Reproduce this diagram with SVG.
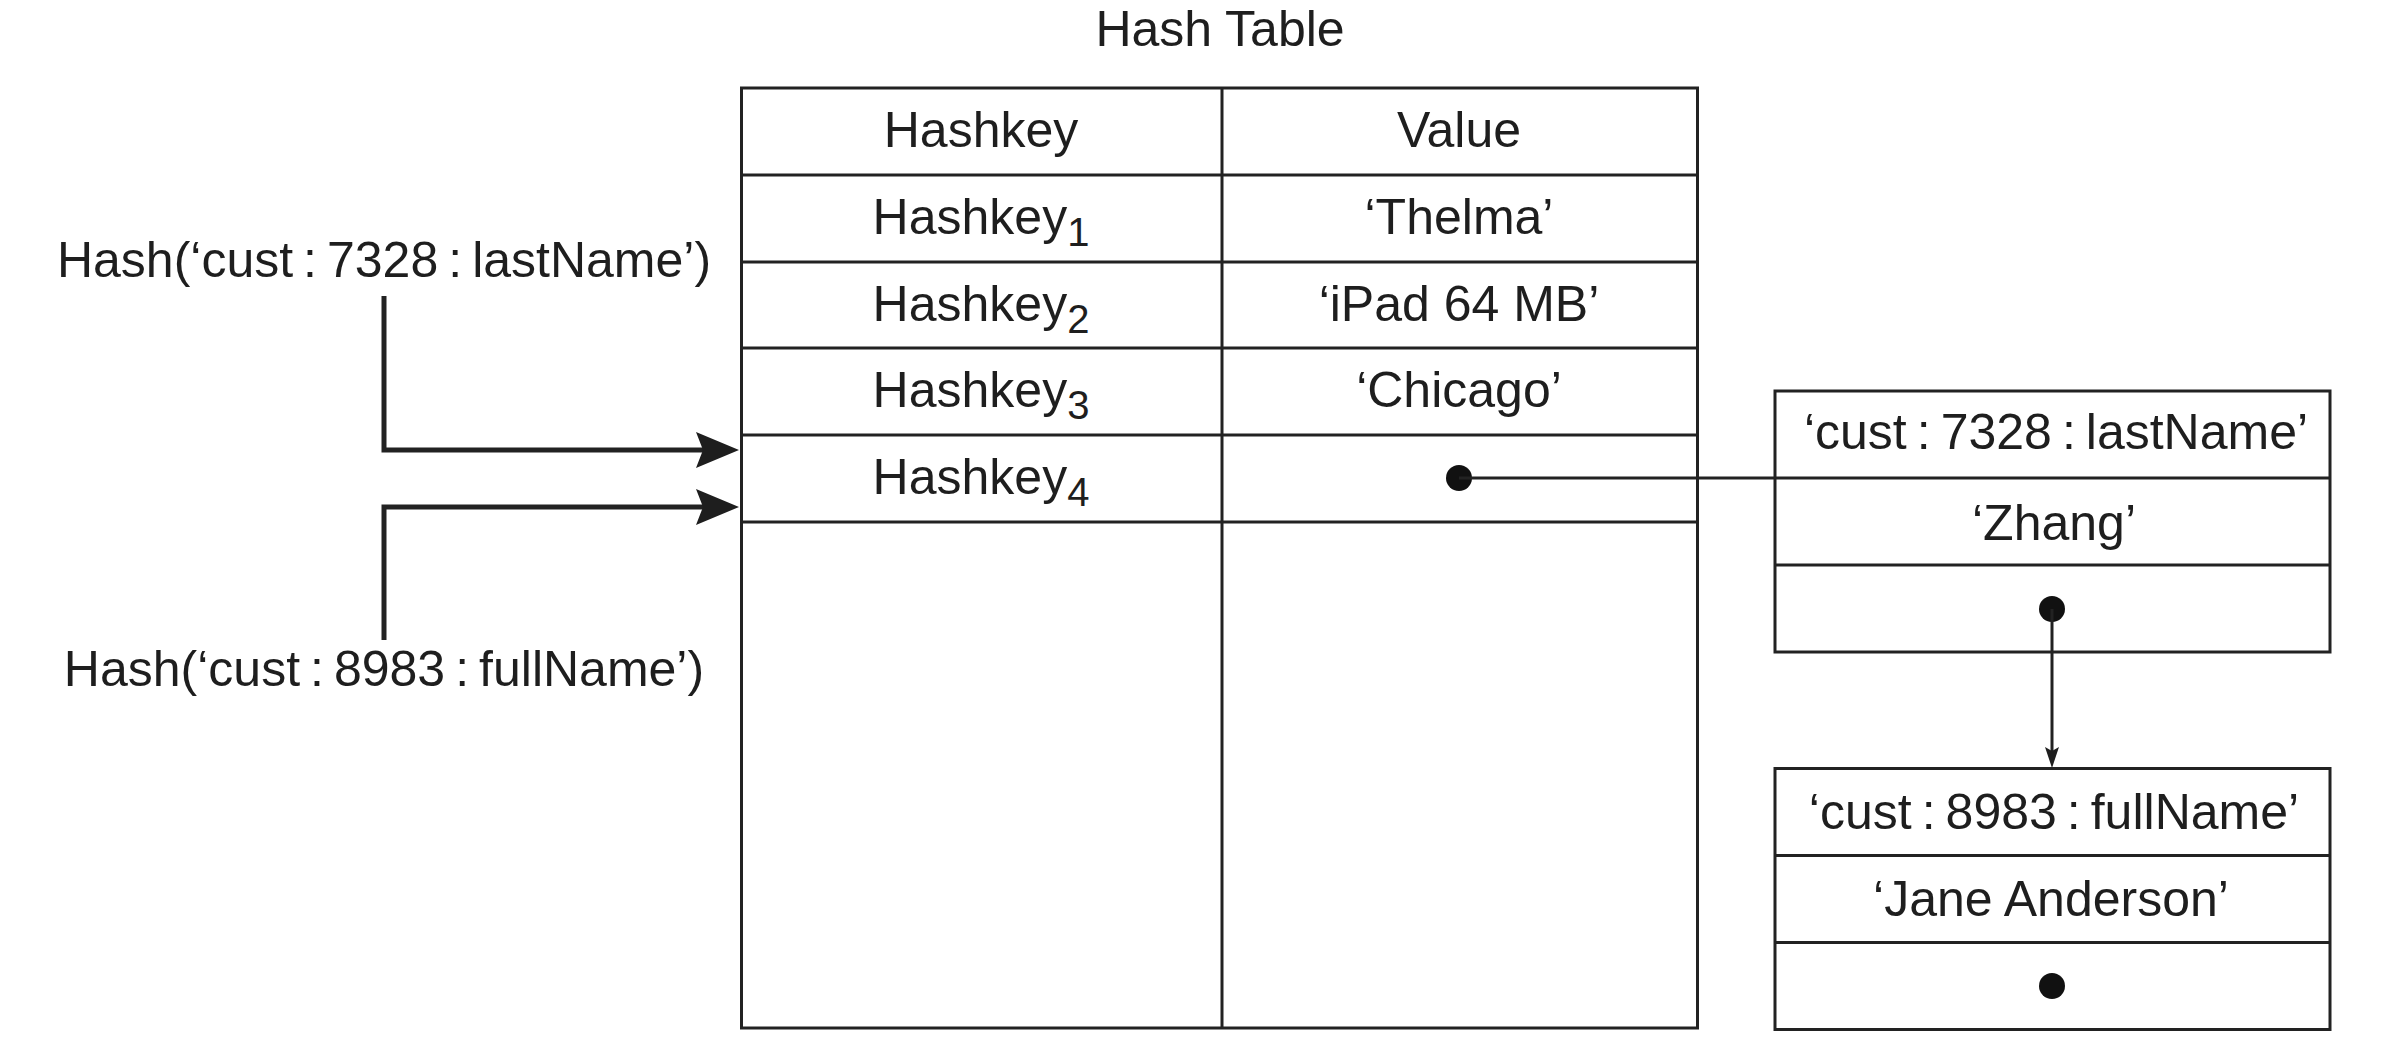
<svg xmlns="http://www.w3.org/2000/svg" width="2396" height="1062" viewBox="0 0 2396 1062">
<style>
  text { font-family: "Liberation Sans", Arial, sans-serif; font-size: 50px; fill: #1e1e1e; text-anchor: middle; }
  .sub { font-family: "Liberation Sans", Arial, sans-serif; font-size: 40px; }
  .grid { fill: none; stroke: #222; stroke-width: 3; }
  .thick { fill: none; stroke: #222; stroke-width: 5; }
  .thin { fill: none; stroke: #222; stroke-width: 3; }
  .dot { fill: #111; }
</style>
<defs>
  <marker id="bigArrow" viewBox="0 0 43 36" refX="7" refY="18" markerWidth="43" markerHeight="36" markerUnits="userSpaceOnUse" orient="auto">
    <path d="M0,0 L43,18 L0,36 L7,18 Z" fill="#1e1e1e"/>
  </marker>
  <marker id="smallArrow" viewBox="0 0 21 14" refX="4" refY="7" markerWidth="21" markerHeight="14" markerUnits="userSpaceOnUse" orient="auto">
    <path d="M0,0 L21,7 L0,14 L4,7 Z" fill="#1e1e1e"/>
  </marker>
</defs>
<rect width="2396" height="1062" fill="#fff"/>

<g id="hash-table">
  <text x="1220" y="46">Hash Table</text>
  <rect class="grid" x="741.5" y="88" width="956" height="940"/>
  <line class="grid" x1="1222" y1="88" x2="1222" y2="1028"/>
  <line class="grid" x1="741.5" y1="175" x2="1697.5" y2="175"/>
  <line class="grid" x1="741.5" y1="262" x2="1697.5" y2="262"/>
  <line class="grid" x1="741.5" y1="348" x2="1697.5" y2="348"/>
  <line class="grid" x1="741.5" y1="435" x2="1697.5" y2="435"/>
  <line class="grid" x1="741.5" y1="522" x2="1697.5" y2="522"/>
  <text x="981" y="147">Hashkey</text>
  <text x="1459" y="147">Value</text>
  <text x="981" y="234">Hashkey<tspan class="sub" dy="12">1</tspan></text>
  <text x="1459" y="234">‘Thelma’</text>
  <text x="981" y="321">Hashkey<tspan class="sub" dy="12">2</tspan></text>
  <text x="1459" y="321">‘iPad 64 MB’</text>
  <text x="981" y="407">Hashkey<tspan class="sub" dy="12">3</tspan></text>
  <text x="1459" y="407">‘Chicago’</text>
  <text x="981" y="494">Hashkey<tspan class="sub" dy="12">4</tspan></text>
  <circle class="dot" cx="1459" cy="478" r="13"/>
</g>

<g id="label-lastname">
  <text x="384" y="277">Hash(‘cust&#8201;:&#8201;7328&#8201;:&#8201;lastName’)</text>
</g>
<g id="label-fullname">
  <text x="384" y="686">Hash(‘cust&#8201;:&#8201;8983&#8201;:&#8201;fullName’)</text>
</g>

<g id="entry-lastname">
  <rect class="grid" x="1775" y="391" width="555" height="261"/>
  <line class="grid" x1="1775" y1="478" x2="2330" y2="478"/>
  <line class="grid" x1="1775" y1="565" x2="2330" y2="565"/>
  <text x="2056" y="449">‘cust&#8201;:&#8201;7328&#8201;:&#8201;lastName’</text>
  <text x="2054" y="540">‘Zhang’</text>
  <circle class="dot" cx="2052" cy="609" r="13"/>
</g>

<g id="entry-fullname">
  <rect class="grid" x="1775" y="768.5" width="555" height="261"/>
  <line class="grid" x1="1775" y1="855.5" x2="2330" y2="855.5"/>
  <line class="grid" x1="1775" y1="942.5" x2="2330" y2="942.5"/>
  <text x="2054" y="829">‘cust&#8201;:&#8201;8983&#8201;:&#8201;fullName’</text>
  <text x="2051" y="916">‘Jane Anderson’</text>
  <circle class="dot" cx="2052" cy="986" r="13"/>
</g>

<g id="connectors">
  <path class="thick" d="M384,296 V450 H703" marker-end="url(#bigArrow)"/>
  <path class="thick" d="M384,640 V507 H703" marker-end="url(#bigArrow)"/>
  <line class="thin" x1="1459" y1="478" x2="1775" y2="478"/>
  <line class="thin" x1="2052" y1="609" x2="2052" y2="751" marker-end="url(#smallArrow)"/>
</g>
</svg>
